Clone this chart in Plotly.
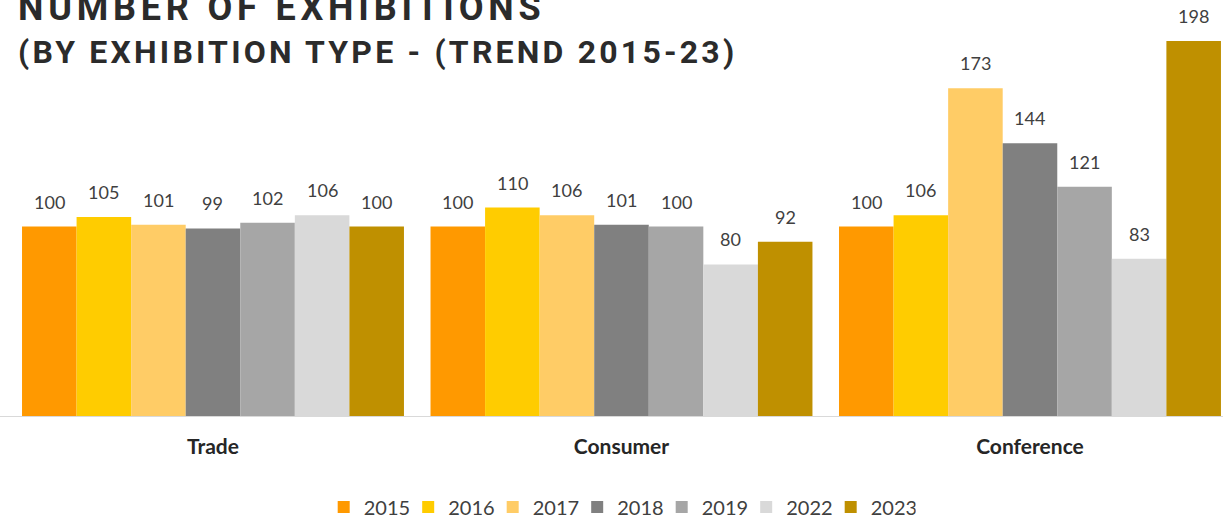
import plotly.graph_objects as go

categories = ["Trade", "Consumer", "Conference"]
years = ["2015", "2016", "2017", "2018", "2019", "2022", "2023"]
values = {
    "2015": [100, 100, 100],
    "2016": [105, 110, 106],
    "2017": [101, 106, 173],
    "2018": [99, 101, 144],
    "2019": [102, 100, 121],
    "2022": [106, 80, 83],
    "2023": [100, 92, 198],
}
colors = ["#FF9900", "#FFCC00", "#FFCC66", "#808080", "#A6A6A6", "#D9D9D9", "#BF9000"]

n = len(years)
group_w = 0.935
bw = group_w / n

fig = go.Figure()
for i, yr in enumerate(years):
    xs = [g + (i - (n - 1) / 2) * bw for g in range(len(categories))]
    fig.add_trace(go.Bar(
        x=xs, y=values[yr], width=bw, name=yr,
        marker=dict(color=colors[i], line=dict(width=0)),
        hoverinfo="skip",
    ))
    for x, v in zip(xs, values[yr]):
        fig.add_annotation(x=x, y=v, xref="x", yref="y", text=str(v),
                           showarrow=False, yshift=25, yanchor="middle",
                           font=dict(family="Lato", size=18, color="#404040"))

fig.add_annotation(xref="paper", yref="paper", x=0.013, y=0.981, xanchor="left",
                   yanchor="middle", showarrow=False,
                   text='<span style="letter-spacing:4.8px"><b>NUMBER OF EXHIBITIONS</b></span>',
                   font=dict(family="Roboto", size=36, color="#2B2B2B"))
fig.add_annotation(xref="paper", yref="paper", x=0.013, y=0.875, xanchor="left",
                   yanchor="middle", showarrow=False,
                   text='<span style="letter-spacing:3.2px"><b>(BY EXHIBITION TYPE - (TREND 2015-23)</b></span>',
                   font=dict(family="Roboto", size=32, color="#2B2B2B"))

fig.update_layout(
    width=1223, height=519,
    margin=dict(l=0, r=0, t=0, b=103, autoexpand=False),
    paper_bgcolor="white", plot_bgcolor="white",
    barmode="overlay",
    showlegend=True,
    legend=dict(orientation="h", xref="container", yref="container",
                x=0.5067, xanchor="center", y=0.0231, yanchor="middle",
                font=dict(family="Lato", size=20, color="#404040"),
                entrywidth=39.5, entrywidthmode="pixels", itemwidth=30, tracegroupgap=0),
    xaxis=dict(range=[-0.5214, 2.4725], tickvals=[0, 1, 2], ticktext=categories,
               showgrid=False, zeroline=False, showline=True, linecolor="#D9D9D9",
               linewidth=1, ticks="", ticklabelstandoff=12, automargin=False,
               tickfont=dict(family="Lato", size=21, color="#262626", weight="bold")),
    yaxis=dict(range=[0, 219.6], visible=False, showgrid=False, zeroline=False,
               automargin=False),
    font=dict(family="Lato"),
)

fig.write_html("out.html", config={"displayModeBar": False},
               post_script="document.body.style.margin='0';document.body.style.padding='0';")
